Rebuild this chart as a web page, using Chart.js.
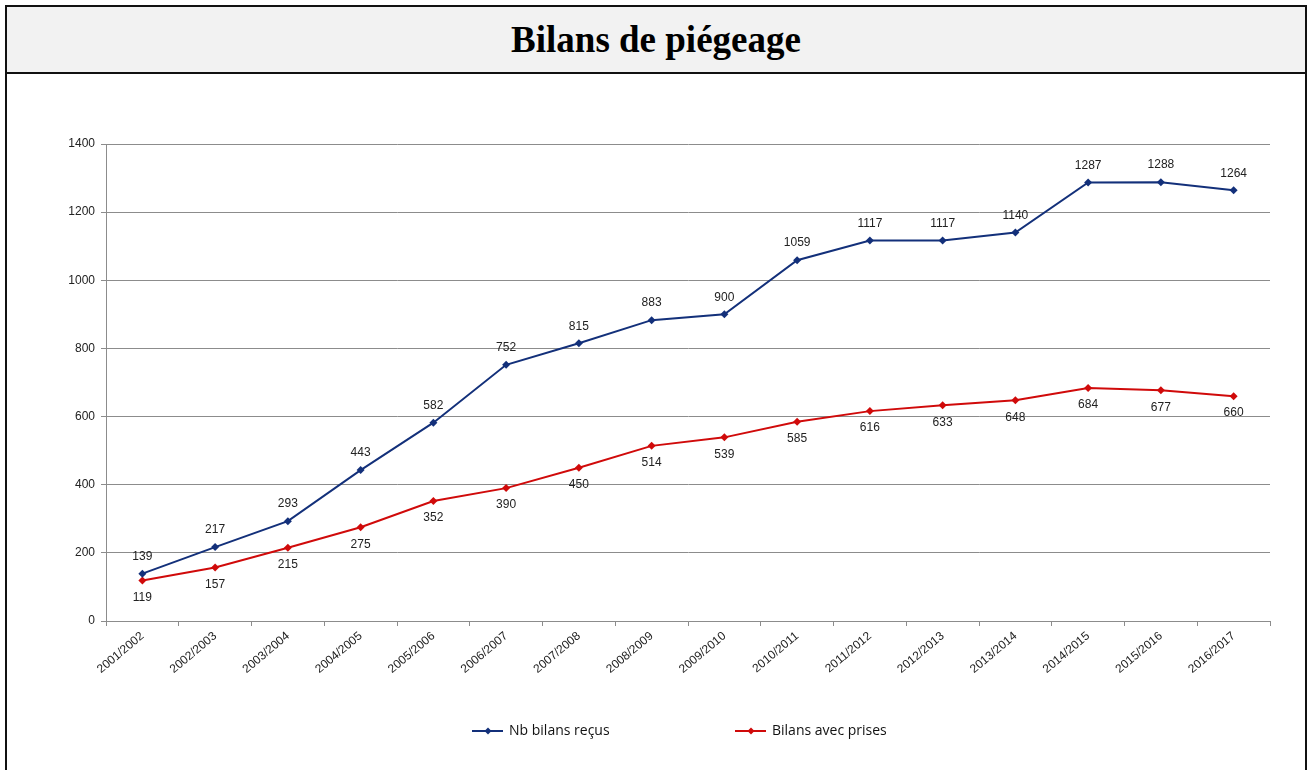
<!DOCTYPE html>
<html>
<head>
<meta charset="utf-8">
<script src="https://cdn.jsdelivr.net/npm/chart.js@4/dist/chart.umd.min.js"></script>
<style>
  html, body { margin: 0; padding: 0; background: #fff; overflow: hidden; }
  .frame {
    position: absolute; left: 5px; top: 5px; width: 1298px; height: 800px;
    border: 2px solid #111; border-bottom: none; background: #fff;
  }
  .title {
    height: 65px; background: #f2f2f2; border-bottom: 2px solid #111;
    font-family: "Liberation Serif", "Times New Roman", serif; font-weight: bold;
    font-size: 37px; text-align: center; line-height: 66px; color: #000;
  }
  #chart { display: block; }
</style>
</head>
<body>
<div class="frame">
  <div class="title">Bilans de piégeage</div>
  <canvas id="chart" width="1298" height="696"></canvas>
</div>
<script>
const seasons = ['2001/2002', '2002/2003', '2003/2004', '2004/2005', '2005/2006', '2006/2007', '2007/2008', '2008/2009',
  '2009/2010', '2010/2011', '2011/2012', '2012/2013', '2013/2014', '2014/2015', '2015/2016', '2016/2017'];
const bilansRecus = [139, 217, 293, 443, 582, 752, 815, 883, 900, 1059, 1117, 1117, 1140, 1287, 1288, 1264];
const bilansAvecPrises = [119, 157, 215, 275, 352, 390, 450, 514, 539, 585, 616, 633, 648, 684, 677, 660];
const yMin = 0;
const yMax = 1400;
const yStep = 200;

const BLUE = '#13307a';
const RED = '#d00a0a';
const AXIS_FONT = { family: '"Liberation Sans", Arial, sans-serif', size: 12 };

// values above the blue line, below the red one
const valueLabels = {
  id: 'valueLabels',
  afterDatasetsDraw(chart) {
    const ctx = chart.ctx;
    ctx.save();
    ctx.font = '12px "Liberation Sans", Arial, sans-serif';
    ctx.fillStyle = '#222';
    ctx.textAlign = 'center';
    ctx.textBaseline = 'middle';
    chart.data.datasets.forEach((ds, i) => {
      const meta = chart.getDatasetMeta(i);
      meta.data.forEach((pt, j) => {
        const dy = i === 0 ? -17 : 17;
        ctx.fillText(String(ds.data[j]), pt.x, pt.y + dy);
      });
    });
    ctx.restore();
  },
};

// Excel style legend: short line with a marker in the middle
const lineLegend = {
  id: 'lineLegend',
  afterDraw(chart) {
    const ctx = chart.ctx;
    const y = 657;
    const starts = [465, 728];
    ctx.save();
    ctx.font = '14px "Open Sans", "Noto Sans", sans-serif';
    ctx.textBaseline = 'middle';
    chart.data.datasets.forEach((ds, i) => {
      const x = starts[i];
      ctx.strokeStyle = ds.borderColor;
      ctx.lineWidth = 2;
      ctx.beginPath();
      ctx.moveTo(x, y);
      ctx.lineTo(x + 31, y);
      ctx.stroke();
      ctx.fillStyle = ds.borderColor;
      ctx.beginPath();
      ctx.moveTo(x + 16, y - 3.5);
      ctx.lineTo(x + 19.5, y);
      ctx.lineTo(x + 16, y + 3.5);
      ctx.lineTo(x + 12.5, y);
      ctx.closePath();
      ctx.fill();
      ctx.fillStyle = '#111';
      ctx.fillText(ds.label, x + 37, y);
    });
    ctx.restore();
  },
};

new Chart(document.getElementById('chart'), {
  type: 'line',
  data: {
    labels: seasons,
    datasets: [
      {
        label: 'Nb bilans reçus',
        data: bilansRecus,
        borderColor: BLUE,
        backgroundColor: BLUE,
        borderWidth: 2,
        pointStyle: 'rectRot',
        pointRadius: 4,
        pointBorderWidth: 0,
        tension: 0,
      },
      {
        label: 'Bilans avec prises',
        data: bilansAvecPrises,
        borderColor: RED,
        backgroundColor: RED,
        borderWidth: 2,
        pointStyle: 'rectRot',
        pointRadius: 4,
        pointBorderWidth: 0,
        tension: 0,
      },
    ],
  },
  options: {
    responsive: false,
    animation: false,
    layout: { padding: { top: 70, right: 35, bottom: 0, left: 0 } },
    plugins: { legend: { display: false }, tooltip: { enabled: false } },
    scales: {
      x: {
        offset: true,
        grid: { offset: true, drawOnChartArea: false, drawTicks: true, tickLength: 5, color: '#8c8c8c' },
        border: { color: '#8c8c8c' },
        ticks: { font: AXIS_FONT, color: '#222', minRotation: 40, maxRotation: 40, autoSkip: false, padding: 3 },
        afterFit(scale) { scale.height = 149; },
      },
      y: {
        min: yMin,
        max: yMax,
        ticks: { stepSize: yStep, font: AXIS_FONT, color: '#222', padding: 6, callback: v => String(v) },
        grid: { color: '#8c8c8c', tickLength: 5 },
        border: { color: '#8c8c8c' },
        afterFit(scale) { scale.width = 99; },
      },
    },
  },
  plugins: [valueLabels, lineLegend],
});
</script>
</body>
</html>
